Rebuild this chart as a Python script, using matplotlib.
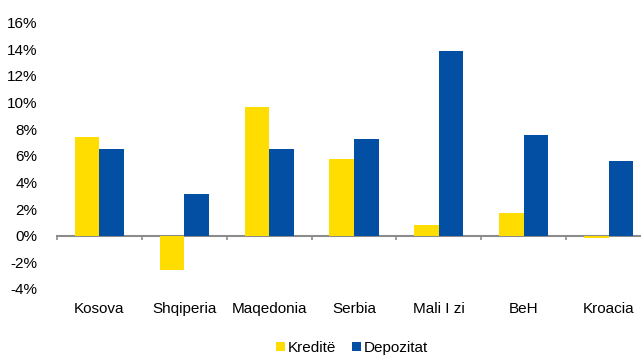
import matplotlib
matplotlib.use("Agg")
import matplotlib.pyplot as plt
import numpy as np
from matplotlib.ticker import FuncFormatter, FixedLocator

plt.rcParams['font.family'] = ['Liberation Sans', 'DejaVu Sans']

categories = ["Kosova", "Shqiperia", "Maqedonia", "Serbia", "Mali I zi", "BeH", "Kroacia"]
kredite = [7.4, -2.6, 9.7, 5.8, 0.8, 1.7, -0.2]
depozitat = [6.5, 3.1, 6.5, 7.3, 13.9, 7.6, 5.6]
series_names = ["Kreditë", "Depozitat"]
yticks = [-4, -2, 0, 2, 4, 6, 8, 10, 12, 14, 16]

yellow = "#FFDD00"
blue = "#034FA3"

fig = plt.figure(figsize=(6.41, 3.56), dpi=100)
ax = fig.add_axes([57/641, 1-289/356, 594/641, (289-22.7)/356])

x = np.arange(len(categories))
w = 0.29
ax.bar(x - w/2, kredite, w, color=yellow, label=series_names[0], zorder=2)
ax.bar(x + w/2, depozitat, w, color=blue, label=series_names[1], zorder=2)

ax.set_xlim(-0.5, len(categories) - 0.5)
ax.set_ylim(-4, 16)
ax.set_yticks(yticks)
ax.yaxis.set_major_formatter(FuncFormatter(lambda v, p: f"{int(v)}%"))
ax.tick_params(axis='y', length=0, pad=14, labelsize=11, colors='black')

for s in ['top', 'right', 'left']:
    ax.spines[s].set_visible(False)
ax.spines['bottom'].set_position(('data', 0))
ax.spines['bottom'].set_color('#8c8c8c')
ax.spines['bottom'].set_linewidth(1.5)
ax.spines['bottom'].set_zorder(1)

ax.set_xticks(x)
ax.set_xticklabels(categories)
ax.tick_params(axis='x', which='major', length=0, pad=47.5, labelsize=11)
ax.xaxis.set_minor_locator(FixedLocator(np.arange(-0.5, len(categories), 1)))
ax.tick_params(axis='x', which='minor', length=3, width=1.2, color='#8c8c8c', direction='out')

fig.legend(loc='center', bbox_to_anchor=(352/641, 1-348/356), ncol=2, frameon=False,
           fontsize=11, handlelength=0.6, handleheight=0.6, handletextpad=0.2,
           columnspacing=1.0, borderaxespad=0)

fig.savefig("out.png", dpi=100)
